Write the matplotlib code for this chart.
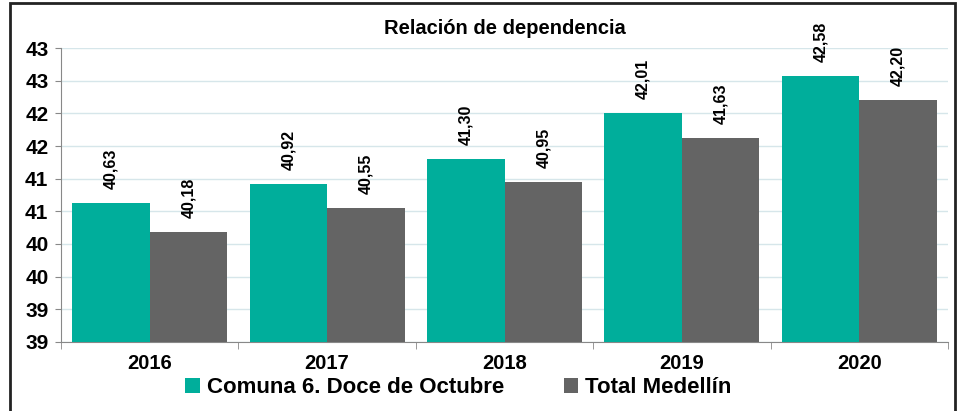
import numpy as np
import matplotlib.pyplot as plt
from matplotlib.patches import Rectangle

years = ['2016', '2017', '2018', '2019', '2020']
comuna = [40.63, 40.92, 41.30, 42.01, 42.58]
medellin = [40.18, 40.55, 40.95, 41.63, 42.20]
ytick_vals = [38.5, 39, 39.5, 40, 40.5, 41, 41.5, 42, 42.5, 43]
ytick_labels = ['39', '39', '40', '40', '41', '41', '42', '42', '43', '43']

green = '#00AE9B'
grey = '#646464'

plt.rcParams['font.family'] = ['Liberation Sans', 'DejaVu Sans']
plt.rcParams['font.weight'] = 'bold'

fig = plt.figure(figsize=(9.59, 4.11), dpi=100)
ax = fig.add_axes([0.0636, 0.168, 0.925, 0.715])

x = np.arange(len(years))
w = 0.437
b1 = ax.bar(x - w/2, comuna, w, color=green, label='Comuna 6. Doce de Octubre', zorder=3)
b2 = ax.bar(x + w/2, medellin, w, color=grey, label='Total Medellín', zorder=3)

for bars, vals in [(b1, comuna), (b2, medellin)]:
	for r, v in zip(bars, vals):
		ax.annotate(('%.2f' % v).replace('.', ','), (r.get_x() + r.get_width()/2, v),
			xytext=(0, 10), textcoords='offset points', rotation=90,
			ha='center', va='bottom', fontsize=11.5, fontweight='bold')

ax.set_ylim(38.5, 43)
ax.set_xlim(-0.5, 4.5)
ax.set_yticks(ytick_vals)
ax.set_yticklabels(ytick_labels)
ax.set_xticks(x)
ax.set_xticklabels(years)
ax.set_xticks(np.arange(-0.5, 5, 1), minor=True)
ax.tick_params(axis='x', which='major', length=0, pad=9, labelsize=14.5)
ax.tick_params(axis='x', which='minor', length=5, color='#888888')
ax.tick_params(axis='y', length=4, color='#888888', pad=5, labelsize=15)
ax.grid(axis='y', color='#D6E6EA', linewidth=1, zorder=0)
for s in ['top', 'right']:
	ax.spines[s].set_visible(False)
for s in ['left', 'bottom']:
	ax.spines[s].set_color('#888888')

ax.set_title('Relación de dependencia', fontsize=14.5, fontweight='bold', pad=10)

fig.legend(loc='center', bbox_to_anchor=(0.478, 0.056), ncol=2, frameon=False,
	fontsize=16, handlelength=0.65, handleheight=0.65, handletextpad=0.3,
	columnspacing=2.7, borderaxespad=0, borderpad=0)

fig.patches.append(Rectangle((10/959, -0.02), 945/959, 1.02 - 3/411, transform=fig.transFigure,
	fill=False, edgecolor='#222222', linewidth=2))

fig.savefig('out.png', dpi=100)
